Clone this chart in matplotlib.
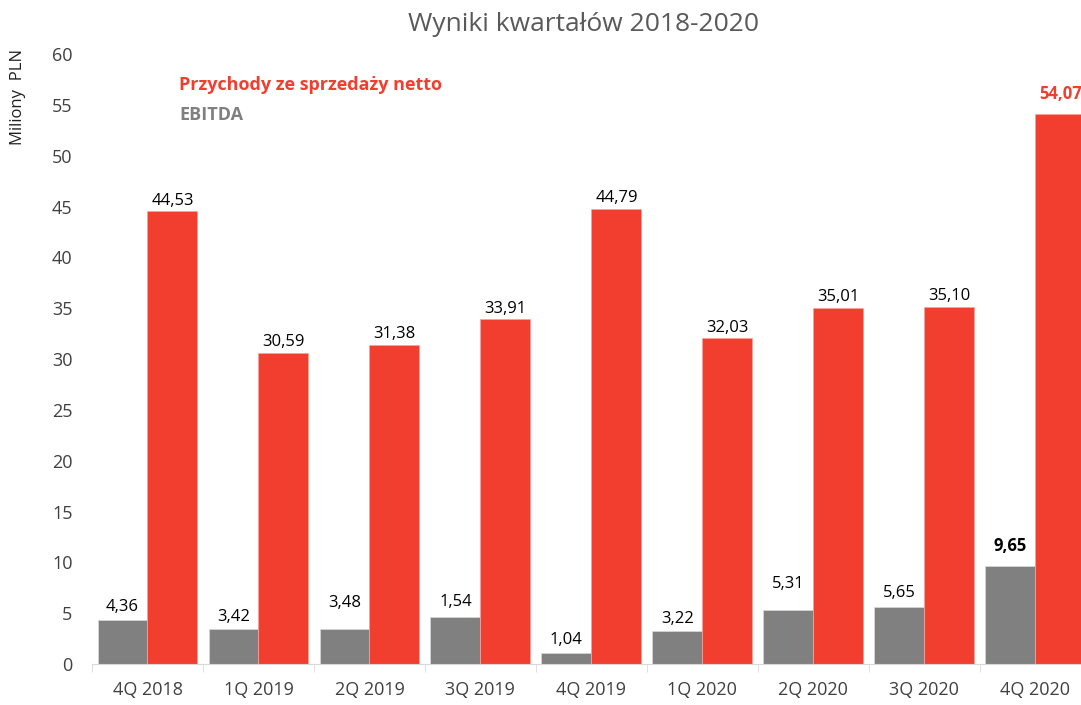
import matplotlib.pyplot as plt
import numpy as np

plt.rcParams['font.family'] = ['Open Sans', 'DejaVu Sans']

quarters = ['4Q 2018', '1Q 2019', '2Q 2019', '3Q 2019', '4Q 2019',
            '1Q 2020', '2Q 2020', '3Q 2020', '4Q 2020']
revenue = [44.53, 30.59, 31.38, 33.91, 44.79, 32.03, 35.01, 35.10, 54.07]
# bar heights as drawn in the source chart, labels as printed
ebitda = [4.36, 3.42, 3.48, 4.60, 1.04, 3.22, 5.31, 5.65, 9.65]
ebitda_labels = ['4,36', '3,42', '3,48', '1,54', '1,04', '3,22', '5,31', '5,65', '9,65']

red = '#f23e2e'
grey = '#808080'

# label offsets above gray bars (points), as placed in the original
ebitda_dy = [3, 3, 13, 5, 4, 3, 13, 4, 8]

fig = plt.figure(figsize=(10.81, 7.05), dpi=100)
ax = fig.add_axes([0.0851, 0.0582, 0.924, 0.865])

x = np.arange(len(quarters))
w = 0.45
ax.bar(x - w / 2, ebitda, w, color=grey, edgecolor='#d9d9d9', linewidth=0.5)
ax.bar(x + w / 2, revenue, w, color=red, edgecolor='#f9a39b', linewidth=0.5)

for i, v in enumerate(revenue):
    last = i == len(revenue) - 1
    ax.annotate(f"{v:.2f}".replace('.', ','), (x[i] + w / 2, v),
                xytext=(0, 2 if not last else 8), textcoords='offset points',
                ha='center', va='bottom', fontsize=12,
                color=red if last else 'black',
                fontweight='bold' if last else 'normal')

for i, v in enumerate(ebitda):
    last = i == len(ebitda) - 1
    ax.annotate(ebitda_labels[i], (x[i] - w / 2, v),
                xytext=(0, ebitda_dy[i]), textcoords='offset points',
                ha='center', va='bottom', fontsize=12, color='black',
                fontweight='bold' if last else 'normal')

ax.set_xlim(-0.5, len(quarters) - 0.5)
ax.set_ylim(0, 60)
ax.set_yticks(range(0, 61, 5))
ax.set_xticks(x)
ax.set_xticklabels(quarters)
ax.set_xticks(np.arange(-0.5, len(quarters), 1), minor=True)
ax.tick_params(axis='x', which='major', length=0, pad=12, labelsize=13, labelcolor='#404040')
ax.tick_params(axis='x', which='minor', length=6, color='#d9d9d9')
ax.tick_params(axis='y', length=0, pad=14, labelsize=13, labelcolor='#404040')

for s in ['top', 'right', 'left']:
    ax.spines[s].set_visible(False)
ax.spines['bottom'].set_color('#d9d9d9')

fig.text(0.54, 0.965, 'Wyniki kwartałów 2018-2020', ha='center', va='center',
         fontsize=19, color='#595959')
fig.text(0.017, 0.862, 'Miliony  PLN', rotation=90, ha='center', va='center',
         fontsize=12, color='#202020')
fig.text(0.166, 0.879, 'Przychody ze sprzedaży netto', ha='left', va='center',
         fontsize=13, fontweight='bold', color=red)
fig.text(0.166, 0.837, 'EBITDA', ha='left', va='center',
         fontsize=13, fontweight='bold', color=grey)

fig.savefig('out.png', dpi=100)
